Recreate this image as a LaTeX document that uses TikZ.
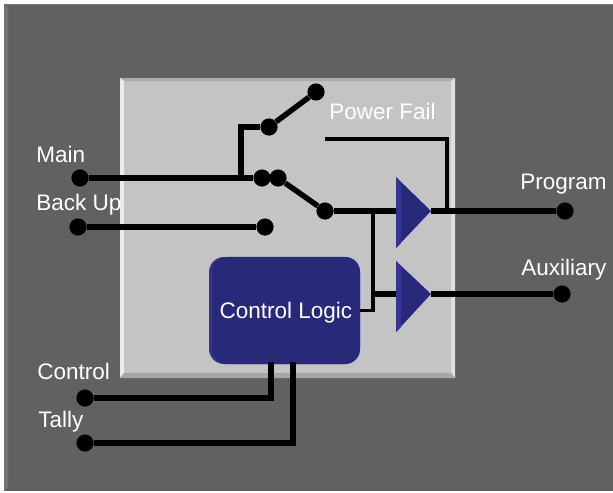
\documentclass[tikz,border=0pt]{standalone}
\usepackage{fontspec}
\setmainfont{Liberation Sans}
\usepackage{xcolor}
\def\outerbox{(4,4) rectangle (613,491)}
\def\innerbox{(120,78) rectangle (455,378)}
\def\bufferA{(396,177) -- (431,211) -- (396,248) -- cycle}
\def\bufferB{(396,261) -- (431,294) -- (396,332) -- cycle}
\colorlet{panel dark}{black!62}
\colorlet{panel light}{black!23}
\colorlet{logic fill}{rgb,255:red,41;green,41;blue,122}
\colorlet{logic edge}{rgb,255:red,52;green,52;blue,150}
\tikzset{wire/.style={draw=black, line width=3.9pt},
    thinwire/.style={draw=black, line width=2.7pt},
    dot/.style={circle, fill=black, inner sep=0pt, minimum size=0.43cm},
    label/.style={text=white, inner sep=0pt, anchor=base west,
      font=\fontsize{16}{19}\selectfont}}

\begin{document}
\begin{tikzpicture}[x=0.025cm, y=-0.025cm]
    \useasboundingbox (0,0) rectangle (613,493);
    % panels
    \fill[panel dark] \outerbox;
    \fill[black!55] (4,4) -- (8,8) -- (8,487) -- (4,491) -- cycle;
    \fill[black!52] (4,4) -- (613,4) -- (613,5) -- (8,5) -- cycle;
    \fill[panel light] \innerbox;
    \fill[black!33] (120,78) -- (455,78) -- (451,81) -- (124,81) -- cycle;
    \fill[black!8] (120,78) -- (124,81) -- (124,373) -- (120,378) -- cycle;
    \fill[black!12] (455,78) -- (451,81) -- (451,373) -- (455,378) -- cycle;
    \fill[black!35] (120,378) -- (124,373) -- (451,373) -- (455,378) -- cycle;
    % buffers
    \fill[logic fill] \bufferA;
    \fill[logic fill] \bufferB;
    \fill[logic edge] (396,177) -- (401,183) -- (401,243) -- (396,248) -- cycle;
    \fill[logic edge] (396,261) -- (401,267) -- (401,327) -- (396,332) -- cycle;
    \coordinate (bufAin) at (396,211);
    \coordinate (bufAout) at (431,211);
    \coordinate (bufBin) at (396,294);
    \coordinate (bufBout) at (431,294);
    % control logic
    \fill[logic edge, rounded corners=0.375cm] (209,257) rectangle (360,364);
    \node[fill=logic fill, rounded corners=0.375cm, minimum width=3.7cm,
      minimum height=2.675cm, inner sep=0pt, text depth=0pt, text=white,
      font=\fontsize{16}{19}\selectfont] (logic) at (286,310.5) {Control Logic};
    % contacts
    \node[dot] (mainL) at (80,178) {};
    \node[dot] (mainA) at (262,178) {};
    \node[dot] (mainB) at (278,178) {};
    \node[dot] (pfA) at (269,127) {};
    \node[dot] (pfB) at (316,92) {};
    \node[dot] (swC) at (325,211) {};
    \node[dot] (backL) at (78,227) {};
    \node[dot] (backR) at (265,227) {};
    \node[dot] (progR) at (565,211) {};
    \node[dot] (auxR) at (562,294) {};
    \node[dot] (ctrlL) at (85,398) {};
    \node[dot] (tallyL) at (85,443) {};
    \coordinate (mainJ) at (241,178);
    \coordinate (pfS) at (325,139);
    \coordinate (pfJ) at (447,211);
    \coordinate (brA) at (373,211);
    \coordinate (brB) at (373,294);
    \coordinate (ctrlT) at (271,362);
    \coordinate (tallyT) at (293,362);
    % wires
    \draw[wire] (mainL) -- (mainA);
    \draw[wire] (mainJ) |- (pfA);
    \draw[wire] (pfA) -- (pfB);
    \draw[wire] (mainB) -- (swC);
    \draw[wire] (backL) -- (backR);
    \draw[wire] (swC) -- (bufAin);
    \draw[wire] (bufAout) -- (progR);
    \draw[thinwire] (pfS) -| (pfJ);
    \draw[thinwire] (brA) |- (logic.east);
    \draw[wire] (brB) -- (bufBin);
    \draw[wire] (bufBout) -- (auxR);
    \draw[wire] (ctrlT) |- (ctrlL);
    \draw[wire] (tallyT) |- (tallyL);
    % labels
    \node[label] (mainT) at (36,162) {Main};
    \node[label] (backT) at (36,210) {Back Up};
    \node[label] (ctrlTx) at (37,379) {Control};
    \node[label] (tallyTx) at (38,427) {Tally};
    \node[label] (pfT) at (329,119) {Power Fail};
    \node[label] (progT) at (520,189) {Program};
    \node[label] (auxT) at (521,275) {Auxiliary};
\end{tikzpicture}
\end{document}
